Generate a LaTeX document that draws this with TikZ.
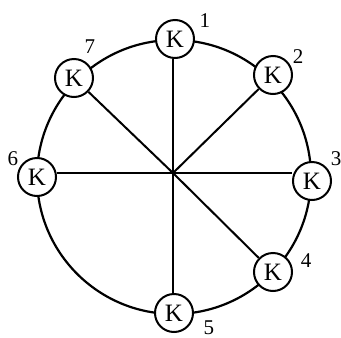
\documentclass[tikz,border=0pt]{standalone}
\usepackage{fontspec}
\setmainfont{Liberation Serif}
\begin{document}
\begin{tikzpicture}[x=1pt,y=-1pt,
  knode/.style={circle,draw,line width=2pt,fill=white,minimum size=38pt,inner sep=0pt,font=\fontsize{25}{25}\selectfont},
  num/.style={font=\fontsize{21}{21}\selectfont,inner sep=0pt},
  spoke/.style={line width=2pt}]
\useasboundingbox (0,0) rectangle (341,338);
\coordinate (c) at (174,177);
\coordinate (hub) at (173,173);
\draw[line width=2.2pt] (c) circle (137);
\node[knode] (k1) at (175,39) {K};
\node[knode] (k2) at (273,75) {K};
\node[knode] (k3) at (312,181) {K};
\node[knode] (k4) at (273,272) {K};
\node[knode] (k5) at (174,313) {K};
\node[knode] (k6) at (37,177) {K};
\node[knode] (k7) at (74,78) {K};
\draw[spoke] (hub) -- (hub |- k1.south);
\draw[spoke] (hub) -- (k2);
\draw[spoke] (hub) -- (hub -| k3.west);
\draw[spoke] (hub) -- (k4);
\draw[spoke] (hub) -- (hub |- k5.north);
\draw[spoke] (hub) -- (hub -| k6.east);
\draw[spoke] (hub) -- (k7);
\node[num] (n1) at (205,21) {1};
\node[num] (n2) at (298,57) {2};
\node[num] (n3) at (336,159) {3};
\node[num] (n4) at (306,261) {4};
\node[num] (n5) at (209,328) {5};
\node[num] (n6) at (13,159) {6};
\node[num] (n7) at (90,47) {7};
\end{tikzpicture}
\end{document}
